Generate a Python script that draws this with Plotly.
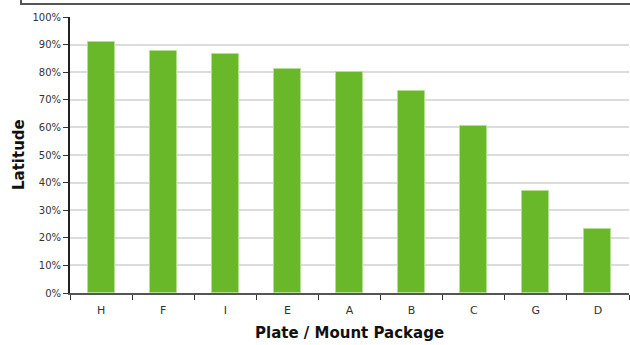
import plotly.graph_objects as go

categories = ["H", "F", "I", "E", "A", "B", "C", "G", "D"]
latitude_pct = [91.0, 87.8, 86.7, 81.0, 80.0, 73.3, 60.5, 37.0, 23.3]
y_ticks = list(range(0, 101, 10))
y_tick_labels = [f"{v}%" for v in y_ticks]

FONT = "DejaVu Sans, Verdana, sans-serif"

fig = go.Figure(
    go.Bar(
        x=categories,
        y=latitude_pct,
        width=0.435,
        marker=dict(color="#69b82a", line=dict(color="#b4df90", width=1)),
    )
)

fig.update_layout(
    width=630,
    height=345,
    margin=dict(l=70, r=1, t=17, b=52),
    paper_bgcolor="white",
    plot_bgcolor="white",
    showlegend=False,
    font=dict(family=FONT, size=10, color="#333333"),
    bargap=0,
)

fig.update_xaxes(
    showline=True,
    linecolor="#555555",
    linewidth=2,
    ticks="outside",
    tickson="boundaries",
    ticklen=5,
    tickcolor="#333333",
    tickwidth=1,
    ticklabelstandoff=6,
    tickfont=dict(family=FONT, size=11, color="#333333"),
    showgrid=False,
)

fig.update_yaxes(
    range=[0, 100],
    tickvals=y_ticks,
    ticktext=y_tick_labels,
    showline=True,
    linecolor="#222222",
    linewidth=2,
    ticks="outside",
    ticklen=5,
    tickcolor="#333333",
    tickwidth=1,
    showgrid=True,
    gridcolor="#dcdcdc",
    gridwidth=1.5,
    zeroline=False,
    tickfont=dict(family=FONT, size=10, color="#333333"),
)

fig.add_annotation(
    text="<b>Plate / Mount Package</b>",
    xref="paper", yref="paper",
    x=0.5, y=(293 - 333) / 276,
    showarrow=False,
    font=dict(family=FONT, size=15, color="#111111"),
    xanchor="center", yanchor="middle",
)
fig.add_annotation(
    text="<b>Latitude</b>",
    xref="paper", yref="paper",
    x=(19 - 70) / 559, y=0.5,
    textangle=-90,
    showarrow=False,
    font=dict(family=FONT, size=15, color="#111111"),
    xanchor="center", yanchor="middle",
)

# partially visible legend box at the top edge
fig.add_shape(
    type="rect",
    xref="paper", yref="paper",
    x0=(21 - 70) / 559, x1=(640 - 70) / 559,
    y0=(293 - 4) / 276, y1=(293 + 20) / 276,
    line=dict(color="#555555", width=2),
    fillcolor="rgba(0,0,0,0)",
)

fig.write_html("out.html")
